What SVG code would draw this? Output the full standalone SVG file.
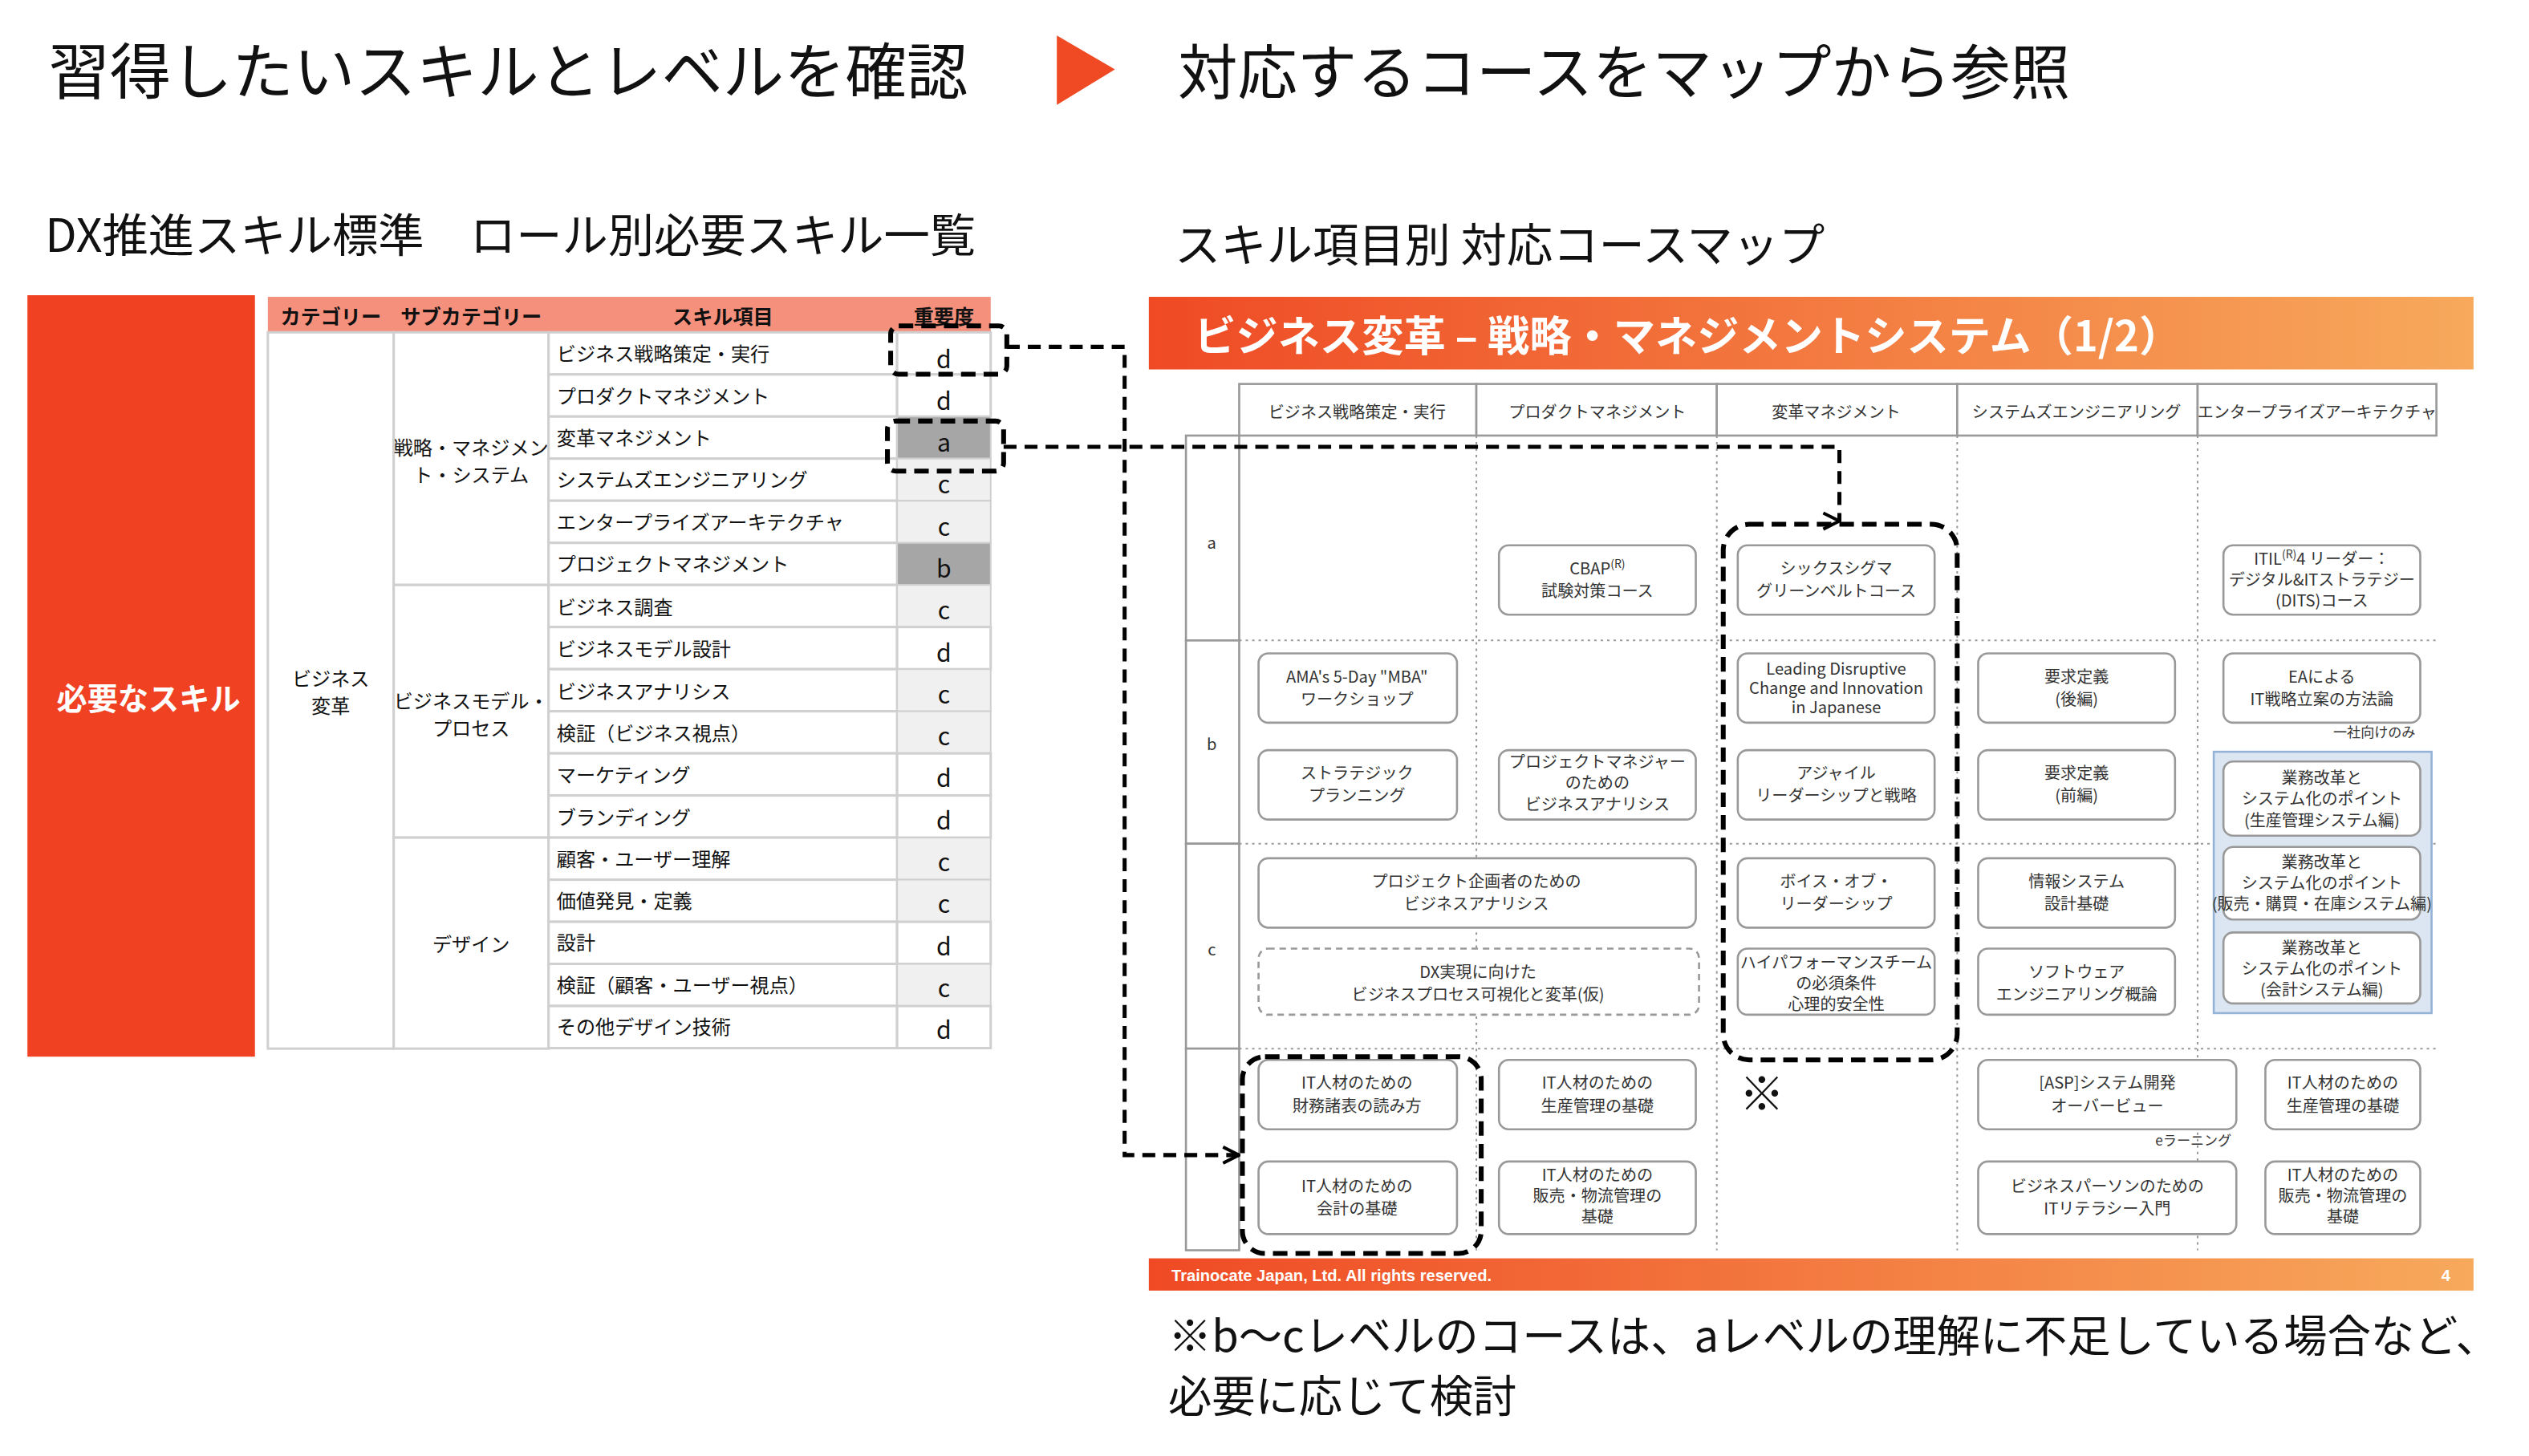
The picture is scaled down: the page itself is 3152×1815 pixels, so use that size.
<svg xmlns="http://www.w3.org/2000/svg" width="3152" height="1815" viewBox="0 0 3152 1815">
<style>
text{font-family:"Noto Sans CJK JP","Liberation Sans",sans-serif;fill:#111}
.t{font-size:12px;text-anchor:middle}
.c{font-size:10px;text-anchor:middle;fill:#333}
.h{font-size:10px;text-anchor:middle;fill:#333}
.cell{fill:#fff;stroke:#d0d0d0;stroke-width:1.5}
.box{fill:#fff;stroke:#999;stroke-width:1.3}
.hl{fill:none;stroke:#000;stroke-width:3;stroke-dasharray:9 5}
.dot{stroke:#999;stroke-width:1;stroke-dasharray:1.5 2.5;fill:none}
.con{fill:none;stroke:#000;stroke-width:2.5;stroke-dasharray:8 5}
</style>
<defs>
<linearGradient id="g" x1="0" x2="1"><stop offset="0" stop-color="#ef4a24"/><stop offset="1" stop-color="#f7a95c"/></linearGradient>
<marker id="ar" viewBox="0 0 12 12" refX="11" refY="6" markerWidth="12" markerHeight="12" markerUnits="userSpaceOnUse"><path d="M1 1 L11 6 L1 11" fill="none" stroke="#000" stroke-width="2"/></marker>
</defs>
<rect width="3152" height="1815" fill="#fff"/>
<g transform="scale(2.011)">
<g id="titles">
<text x="30" y="58" font-size="38">習得したいスキルとレベルを確認</text>
<polygon points="655,22 691,43 655,65" fill="#ef4a24"/>
<text x="730" y="58" font-size="37">対応するコースをマップから参照</text>
<text x="28" y="156" font-size="28.5">DX推進スキル標準　ロール別必要スキル一覧</text>
<text x="728" y="162" font-size="28.5">スキル項目別 対応コースマップ</text>
<text x="724" y="838" font-size="27">※b～cレベルのコースは、aレベルの理解に不足している場合など、</text>
<text x="724" y="875" font-size="27">必要に応じて検討</text>
</g>
<g id="required">
<rect x="17" y="183" width="141" height="472" fill="#f04123"/>
<text x="92" y="440" font-size="19" font-weight="bold" text-anchor="middle" style="fill:#fff">必要なスキル</text>
</g>
<g id="table">
<rect x="166" y="184" width="448" height="22" fill="#f4907c"/>
<g font-size="12.5" font-weight="bold" text-anchor="middle">
<text x="205" y="201">カテゴリー</text><text x="292" y="201">サブカテゴリー</text><text x="448" y="201">スキル項目</text><text x="585" y="201">重要度</text>
</g>
<rect class="cell" x="166" y="206" width="78" height="444"/>
<rect class="cell" x="244" y="206" width="96" height="156.6"/>
<rect class="cell" x="244" y="362.6" width="96" height="156.6"/>
<rect class="cell" x="244" y="519.2" width="96" height="130.8"/>
<text class="t" x="205" y="425">ビジネス</text><text class="t" x="205" y="442">変革</text>
<text class="t" x="292" y="282" font-size="11">戦略・マネジメン</text><text class="t" x="292" y="299">ト・システム</text>
<text class="t" x="292" y="439" font-size="11">ビジネスモデル・</text><text class="t" x="292" y="456">プロセス</text>
<text class="t" x="292" y="590">デザイン</text>
<g id="rows" font-size="12">
<rect class="cell" x="340" y="206" width="216" height="26.1"/><rect class="cell" x="556" y="206" width="58" height="26.1" fill="#fff"/><text x="345" y="224">ビジネス戦略策定・実行</text><text x="585" y="228" text-anchor="middle" font-size="15">d</text>
<rect class="cell" x="340" y="232.1" width="216" height="26.1"/><rect class="cell" x="556" y="232.1" width="58" height="26.1"/><text x="345" y="250">プロダクトマネジメント</text><text x="585" y="254" text-anchor="middle" font-size="15">d</text>
<rect class="cell" x="340" y="258.2" width="216" height="26.1"/><rect x="556" y="258.2" width="58" height="26.1" fill="#a6a6a6" stroke="#d0d0d0"/><text x="345" y="276">変革マネジメント</text><text x="585" y="280" text-anchor="middle" font-size="15">a</text>
<rect class="cell" x="340" y="284.3" width="216" height="26.1"/><rect x="556" y="284.3" width="58" height="26.1" fill="#f0f0f0" stroke="#d0d0d0"/><text x="345" y="302">システムズエンジニアリング</text><text x="585" y="306" text-anchor="middle" font-size="15">c</text>
<rect class="cell" x="340" y="310.4" width="216" height="26.1"/><rect x="556" y="310.4" width="58" height="26.1" fill="#f0f0f0" stroke="#d0d0d0"/><text x="345" y="328">エンタープライズアーキテクチャ</text><text x="585" y="332" text-anchor="middle" font-size="15">c</text>
<rect class="cell" x="340" y="336.5" width="216" height="26.1"/><rect x="556" y="336.5" width="58" height="26.1" fill="#a6a6a6" stroke="#d0d0d0"/><text x="345" y="354">プロジェクトマネジメント</text><text x="585" y="358" text-anchor="middle" font-size="15">b</text>
<rect class="cell" x="340" y="362.6" width="216" height="26.1"/><rect x="556" y="362.6" width="58" height="26.1" fill="#f0f0f0" stroke="#d0d0d0"/><text x="345" y="381">ビジネス調査</text><text x="585" y="384" text-anchor="middle" font-size="15">c</text>
<rect class="cell" x="340" y="388.7" width="216" height="26.1"/><rect class="cell" x="556" y="388.7" width="58" height="26.1"/><text x="345" y="407">ビジネスモデル設計</text><text x="585" y="410" text-anchor="middle" font-size="15">d</text>
<rect class="cell" x="340" y="414.8" width="216" height="26.1"/><rect x="556" y="414.8" width="58" height="26.1" fill="#f0f0f0" stroke="#d0d0d0"/><text x="345" y="433">ビジネスアナリシス</text><text x="585" y="436" text-anchor="middle" font-size="15">c</text>
<rect class="cell" x="340" y="440.9" width="216" height="26.1"/><rect x="556" y="440.9" width="58" height="26.1" fill="#f0f0f0" stroke="#d0d0d0"/><text x="345" y="459">検証（ビジネス視点）</text><text x="585" y="462" text-anchor="middle" font-size="15">c</text>
<rect class="cell" x="340" y="467" width="216" height="26.1"/><rect class="cell" x="556" y="467" width="58" height="26.1"/><text x="345" y="485">マーケティング</text><text x="585" y="488" text-anchor="middle" font-size="15">d</text>
<rect class="cell" x="340" y="493.1" width="216" height="26.1"/><rect class="cell" x="556" y="493.1" width="58" height="26.1"/><text x="345" y="511">ブランディング</text><text x="585" y="514" text-anchor="middle" font-size="15">d</text>
<rect class="cell" x="340" y="519.2" width="216" height="26.1"/><rect x="556" y="519.2" width="58" height="26.1" fill="#f0f0f0" stroke="#d0d0d0"/><text x="345" y="537">顧客・ユーザー理解</text><text x="585" y="540" text-anchor="middle" font-size="15">c</text>
<rect class="cell" x="340" y="545.3" width="216" height="26.1"/><rect x="556" y="545.3" width="58" height="26.1" fill="#f0f0f0" stroke="#d0d0d0"/><text x="345" y="563">価値発見・定義</text><text x="585" y="566" text-anchor="middle" font-size="15">c</text>
<rect class="cell" x="340" y="571.4" width="216" height="26.1"/><rect class="cell" x="556" y="571.4" width="58" height="26.1"/><text x="345" y="589">設計</text><text x="585" y="592" text-anchor="middle" font-size="15">d</text>
<rect class="cell" x="340" y="597.5" width="216" height="26.1"/><rect x="556" y="597.5" width="58" height="26.1" fill="#f0f0f0" stroke="#d0d0d0"/><text x="345" y="615">検証（顧客・ユーザー視点）</text><text x="585" y="618" text-anchor="middle" font-size="15">c</text>
<rect class="cell" x="340" y="623.6" width="216" height="26.1"/><rect class="cell" x="556" y="623.6" width="58" height="26.1"/><text x="345" y="641">その他デザイン技術</text><text x="585" y="644" text-anchor="middle" font-size="15">d</text>
</g>
<rect class="hl" x="552" y="202" width="72" height="30" rx="5"/>
<rect class="hl" x="550" y="261" width="72" height="31" rx="5"/>
</g>
<g id="map">
<rect x="712" y="184" width="821" height="45" fill="url(#g)"/>
<text x="740" y="218" font-size="26" font-weight="bold" style="fill:#fff">ビジネス変革 – 戦略・マネジメントシステム（1/2）</text>
<g fill="#fff" stroke="#999" stroke-width="1.3">
<rect x="768" y="238" width="147" height="32"/><rect x="915" y="238" width="149" height="32"/><rect x="1064" y="238" width="149" height="32"/><rect x="1213" y="238" width="149" height="32"/><rect x="1362" y="238" width="148" height="32"/>
<rect x="735" y="270" width="33" height="127"/><rect x="735" y="397" width="33" height="126"/><rect x="735" y="523" width="33" height="127"/><rect x="735" y="650" width="33" height="125"/>
</g>
<text class="h" x="841" y="259">ビジネス戦略策定・実行</text><text class="h" x="990" y="259">プロダクトマネジメント</text><text class="h" x="1138" y="259">変革マネジメント</text><text class="h" x="1287" y="259" font-size="9.5">システムズエンジニアリング</text><text class="h" x="1436" y="259" font-size="9">エンタープライズアーキテクチャ</text>
<text class="c" x="751" y="340">a</text><text class="c" x="751" y="465">b</text><text class="c" x="751" y="592">c</text>
<path class="dot" d="M768 397H1510M768 523H1510M768 650H1510M915 270V775M1064 270V775M1213 270V775M1362 270V775"/>
<rect x="712" y="780" width="821" height="20" fill="url(#g)"/>
<text x="726" y="794" font-size="10" font-weight="bold" style="fill:#fff;font-family:'Liberation Sans',sans-serif">Trainocate Japan, Ltd. All rights reserved.</text>
<text x="1513" y="794" font-size="10" font-weight="bold" style="fill:#fff;font-family:'Liberation Sans',sans-serif">4</text>
</g>
<g id="courses">
<rect x="1372" y="466" width="135" height="162" fill="#dce6f2" stroke="#95b3d7" stroke-width="1.3"/>
<rect class="box" x="929" y="338" width="122" height="43" rx="6"/><text class="c" x="990" y="356">CBAP<tspan font-size="7" dy="-4">(R)</tspan></text><text class="c" x="990" y="370">試験対策コース</text>
<rect class="box" x="1077" y="338" width="122" height="43" rx="6"/><text class="c" x="1138" y="356">シックスシグマ</text><text class="c" x="1138" y="370">グリーンベルトコース</text>
<rect class="box" x="1378" y="338" width="122" height="43" rx="6"/><text class="c" x="1439" y="350" font-size="9.5">ITIL<tspan font-size="7" dy="-4">(R)</tspan><tspan dy="4">4 リーダー：</tspan></text><text class="c" x="1439" y="363" font-size="9.5">デジタル&amp;ITストラテジー</text><text class="c" x="1439" y="376" font-size="9.5">(DITS)コース</text>
<rect class="box" x="780" y="405" width="123" height="43" rx="6"/><text class="c" x="841" y="423">AMA's 5-Day "MBA"</text><text class="c" x="841" y="437">ワークショップ</text>
<rect class="box" x="1077" y="405" width="122" height="43" rx="6"/><text class="c" x="1138" y="418" font-size="9">Leading Disruptive</text><text class="c" x="1138" y="430" font-size="9">Change and Innovation</text><text class="c" x="1138" y="442" font-size="9">in Japanese</text>
<rect class="box" x="1226" y="405" width="122" height="43" rx="6"/><text class="c" x="1287" y="423">要求定義</text><text class="c" x="1287" y="437">(後編)</text>
<rect class="box" x="1378" y="405" width="122" height="43" rx="6"/><text class="c" x="1439" y="423">EAによる</text><text class="c" x="1439" y="437">IT戦略立案の方法論</text>
<text x="1497" y="457" font-size="8.5" text-anchor="end" style="fill:#333">一社向けのみ</text>
<rect class="box" x="780" y="465" width="123" height="43" rx="6"/><text class="c" x="841" y="483">ストラテジック</text><text class="c" x="841" y="497">プランニング</text>
<rect class="box" x="929" y="465" width="122" height="43" rx="6"/><text class="c" x="990" y="476">プロジェクトマネジャー</text><text class="c" x="990" y="489">のための</text><text class="c" x="990" y="502">ビジネスアナリシス</text>
<rect class="box" x="1077" y="465" width="122" height="43" rx="6"/><text class="c" x="1138" y="483">アジャイル</text><text class="c" x="1138" y="497">リーダーシップと戦略</text>
<rect class="box" x="1226" y="465" width="122" height="43" rx="6"/><text class="c" x="1287" y="483">要求定義</text><text class="c" x="1287" y="497">(前編)</text>
<rect class="box" x="1378" y="472" width="122" height="46" rx="6"/><text class="c" x="1439" y="486">業務改革と</text><text class="c" x="1439" y="499">システム化のポイント</text><text class="c" x="1439" y="512" font-size="7">(生産管理システム編)</text>
<rect class="box" x="1378" y="525" width="122" height="45" rx="6"/><text class="c" x="1439" y="538">業務改革と</text><text class="c" x="1439" y="551">システム化のポイント</text><text class="c" x="1439" y="564" font-size="6">(販売・購買・在庫システム編)</text>
<rect class="box" x="1378" y="578" width="122" height="44" rx="6"/><text class="c" x="1439" y="591">業務改革と</text><text class="c" x="1439" y="604">システム化のポイント</text><text class="c" x="1439" y="617" font-size="7">(会計システム編)</text>
<rect class="box" x="780" y="532" width="271" height="43" rx="6"/><text class="c" x="915" y="550">プロジェクト企画者のための</text><text class="c" x="915" y="564">ビジネスアナリシス</text>
<rect class="box" x="780" y="588" width="273" height="41" rx="6" stroke-dasharray="4 3"/><text class="c" x="916" y="606">DX実現に向けた</text><text class="c" x="916" y="620">ビジネスプロセス可視化と変革(仮)</text>
<rect class="box" x="1077" y="532" width="122" height="43" rx="6"/><text class="c" x="1138" y="550">ボイス・オブ・</text><text class="c" x="1138" y="564">リーダーシップ</text>
<rect class="box" x="1077" y="588" width="122" height="41" rx="6"/><text class="c" x="1138" y="600" font-size="9.5">ハイパフォーマンスチーム</text><text class="c" x="1138" y="613">の必須条件</text><text class="c" x="1138" y="626">心理的安全性</text>
<rect class="box" x="1226" y="532" width="122" height="43" rx="6"/><text class="c" x="1287" y="550">情報システム</text><text class="c" x="1287" y="564">設計基礎</text>
<rect class="box" x="1226" y="588" width="122" height="41" rx="6"/><text class="c" x="1287" y="606">ソフトウェア</text><text class="c" x="1287" y="620">エンジニアリング概論</text>
<rect class="box" x="780" y="657" width="123" height="43" rx="6"/><text class="c" x="841" y="675">IT人材のための</text><text class="c" x="841" y="689">財務諸表の読み方</text>
<rect class="box" x="780" y="720" width="123" height="45" rx="6"/><text class="c" x="841" y="739">IT人材のための</text><text class="c" x="841" y="753">会計の基礎</text>
<rect class="box" x="929" y="657" width="122" height="43" rx="6"/><text class="c" x="990" y="675">IT人材のための</text><text class="c" x="990" y="689">生産管理の基礎</text>
<rect class="box" x="929" y="720" width="122" height="45" rx="6"/><text class="c" x="990" y="732">IT人材のための</text><text class="c" x="990" y="745">販売・物流管理の</text><text class="c" x="990" y="758">基礎</text>
<text x="1092" y="688" font-size="28" text-anchor="middle">※</text>
<rect class="box" x="1226" y="657" width="160" height="43" rx="6"/><text class="c" x="1306" y="675">[ASP]システム開発</text><text class="c" x="1306" y="689">オーバービュー</text>
<text x="1383" y="710" font-size="8.5" text-anchor="end" style="fill:#333">eラーニング</text>
<rect class="box" x="1226" y="720" width="160" height="45" rx="6"/><text class="c" x="1306" y="739">ビジネスパーソンのための</text><text class="c" x="1306" y="753">ITリテラシー入門</text>
<rect class="box" x="1404" y="657" width="96" height="43" rx="6"/><text class="c" x="1452" y="675">IT人材のための</text><text class="c" x="1452" y="689">生産管理の基礎</text>
<rect class="box" x="1404" y="720" width="96" height="45" rx="6"/><text class="c" x="1452" y="732">IT人材のための</text><text class="c" x="1452" y="745">販売・物流管理の</text><text class="c" x="1452" y="758">基礎</text>
<rect class="hl" x="1068" y="325" width="145" height="332" rx="16"/>
<rect class="hl" x="770" y="655" width="148" height="122" rx="14"/>
</g>
<g id="connectors">
<path class="con" d="M624 215H697V716H768" marker-end="url(#ar)"/>
<path class="con" d="M622 277H1140V323" marker-end="url(#ar)"/>
</g>
</g>
</svg>
